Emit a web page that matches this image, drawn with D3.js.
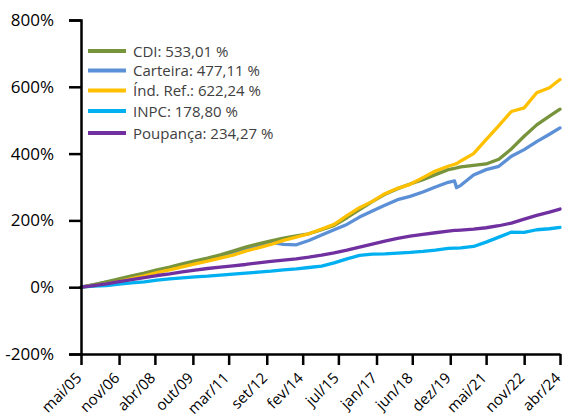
<!DOCTYPE html>
<html>
<head>
<meta charset="utf-8">
<script src="https://cdn.jsdelivr.net/npm/d3@7"></script>
<style>
  html, body { margin: 0; padding: 0; background: #fff; }
  svg { display: block; }
  text { font-family: "Open Sans", "Noto Sans", sans-serif; }
</style>
</head>
<body>
<svg id="chart" width="563" height="420"></svg>
<script>
// ---- data ----
const months = ["2005-05","2005-11","2006-05","2006-11","2007-05","2007-11","2008-05","2008-11",
  "2009-05","2009-11","2010-05","2010-11","2011-05","2011-11","2012-05","2012-11","2013-05","2013-11",
  "2014-05","2014-11","2015-05","2015-11","2016-05","2016-11","2017-05","2017-11","2018-05","2018-11",
  "2019-05","2019-11","2020-02","2020-03","2020-05","2020-11","2021-05","2021-11","2022-05","2022-11",
  "2023-05","2023-11","2024-04"];

const cdi = [0,8,16,25,34,42,52,60,70,79,87,97,108,120,130,139,147,154,160,172,185,208,232,256,278,295,
  309,322,337,352,356,357,360,365,369,383,414,452,486,512,533];
const carteira = [0,7,15,23,32,40,49,57,66,75,83,93,103,115,125,134,128,127,140,156,172,188,210,228,245,
  262,272,285,300,314,318,298,305,336,352,362,392,412,436,458,477];
const indRef = [0,4,9,17,26,34,44,52,61,70,78,87,96,108,118,128,140,150,160,174,188,214,238,257,280,
  296,308,328,348,362,368,370,378,400,442,484,526,537,582,597,622];
const inpc = [0,3,5,9,13,16,21,25,28,31,33,36,39,42,45,48,52,55,59,63,73,85,95,99,100,102,104,107,111,
  116,117,117,118,122,135,150,165,164,172,175,179];
const poupanca = [0,5,10,17,23,29,35,40,46,51,56,60,64,68,73,77,81,85,90,96,103,111,120,129,138,146,
  153,158,163,168,170,170,171,174,178,184,192,204,215,225,234];

const seriesNames = ["CDI: 533,01 %","Carteira: 477,11 %","Índ. Ref.: 622,24 %","INPC: 178,80 %","Poupança: 234,27 %"];
const seriesColors = ["#77933C","#5B8FD6","#FFC000","#00B0F0","#7030A0"];
const seriesValues = [cdi, carteira, indRef, inpc, poupanca];

const xTickMonths = ["2005-05","2006-11","2008-04","2009-10","2011-03","2012-09","2014-02","2015-07",
  "2017-01","2018-06","2019-12","2021-05","2022-11","2024-04"];
const xTickLabels = ["mai/05","nov/06","abr/08","out/09","mar/11","set/12","fev/14","jul/15",
  "jan/17","jun/18","dez/19","mai/21","nov/22","abr/24"];
const yTicks = [-200, 0, 200, 400, 600, 800];

// ---- chart ----
(function () {
const parse = d3.timeParse("%Y-%m");
const svg = d3.select("#chart");
const mLeft = 81, mRight = 560, mTop = 20, mBottom = 354;

const x = d3.scaleTime().domain([parse("2005-05"), parse("2024-04")]).range([mLeft, mRight]);
const y = d3.scaleLinear().domain([-200, 800]).range([mBottom, mTop]);

const line = d3.line()
  .x((d, i) => x(parse(months[i])))
  .y(d => y(d));

const order = [1, 0, 2, 3, 4];
order.forEach(k => {
  svg.append("path")
    .attr("d", line(seriesValues[k]))
    .attr("fill", "none")
    .attr("stroke", seriesColors[k])
    .attr("stroke-width", 3.3)
    .attr("stroke-linejoin", "round")
    .attr("stroke-linecap", "round");
});

// y axis
const yAxis = d3.axisLeft(y).tickValues(yTicks).tickFormat(d => d + "%").tickSize(12).tickPadding(15);
const gy = svg.append("g").attr("transform", `translate(${mLeft},0)`).call(yAxis);
gy.select(".domain").attr("stroke", "#000").attr("stroke-width", 2.5);
gy.selectAll(".tick line").attr("stroke", "#000").attr("stroke-width", 2.5);
gy.selectAll(".tick text").attr("font-size", 17).attr("fill", "#000")
  .attr("font-family", "'Open Sans', sans-serif");

// x axis
const xAxis = d3.axisBottom(x).tickValues(xTickMonths.map(parse))
  .tickFormat((d, i) => xTickLabels[i]).tickSize(11).tickSizeOuter(0);
const gx = svg.append("g").attr("transform", `translate(0,${mBottom})`).call(xAxis);
gx.select(".domain").attr("stroke", "#000").attr("stroke-width", 2.5);
gx.selectAll(".tick line").attr("stroke", "#000").attr("stroke-width", 2.5);
gx.selectAll(".tick text")
  .attr("font-size", 15).attr("fill", "#000")
  .attr("font-family", "'Open Sans', sans-serif")
  .attr("text-anchor", "end")
  .attr("dy", null).attr("y", null)
  .attr("transform", "translate(1,25) rotate(-45)");

// legend
const legend = svg.append("g").attr("transform", "translate(88,51)");
const legY = [0, 19.5, 39.5, 60, 82];
seriesNames.forEach((name, k) => {
  const g = legend.append("g").attr("transform", `translate(0,${legY[k]})`);
  g.append("line").attr("x1", 0).attr("x2", 38).attr("y1", 0).attr("y2", 0)
    .attr("stroke", seriesColors[k]).attr("stroke-width", 4);
  g.append("text").attr("x", 45).attr("y", 5.5).attr("font-size", 15).attr("fill", "#404040").text(name);
});
})();
</script>
</body>
</html>
